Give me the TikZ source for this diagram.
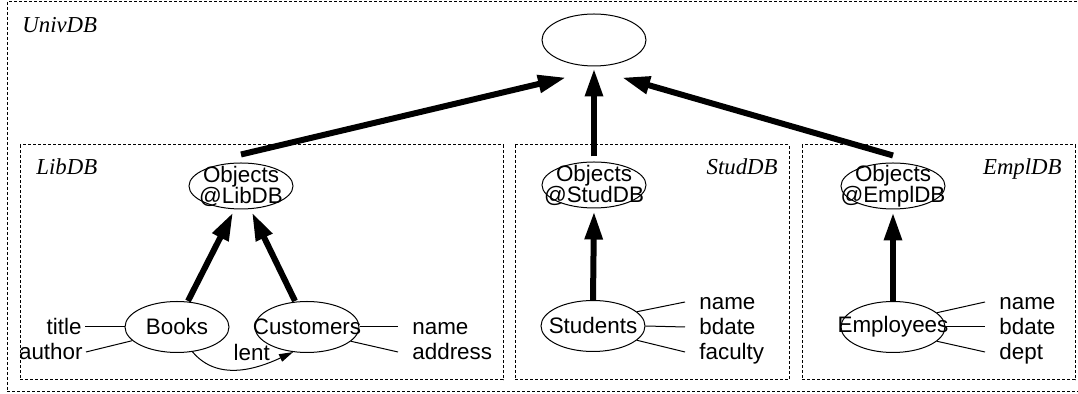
\documentclass[tikz,border=0pt]{standalone}
\usepackage{fontspec}
\setmainfont{Liberation Sans}
\newfontfamily\dbfont{Liberation Serif}
\usetikzlibrary{shapes,arrows.meta,positioning}

\begin{document}
\begin{tikzpicture}[
    x=0.5pt, y=-0.5pt,
    every node/.style={font=\fontsize{11.2}{10.5}\selectfont},
    oval/.style={
        ellipse,
        draw,
        line width=0.5pt,
        minimum width=52pt,
        minimum height=25.5pt,
        inner sep=0pt
    },
    cls/.style={oval, label={[align=center]center:#1}},
    objs/.style={cls={#1}, minimum height=23pt},
    attr/.style={
        inner xsep=7pt,
        inner ysep=0pt,
        text height=8pt,
        text depth=0pt
    },
    db/.style={draw, line width=0.5pt, dash pattern=on 1.5pt off 1pt},
    dbname/.style={
        font=\fontsize{11.4}{13}\selectfont\dbfont\itshape,
        inner sep=0pt
    },
    isa/.style={-{Triangle[length=14pt,width=8.5pt]}, line width=3pt},
    link/.style={line width=0.5pt}
]
\useasboundingbox (0,0) rectangle (1078,394);

% Database frames
\draw[db] (7,2) rectangle (1082,392);
\draw[db] (20,145) rectangle (503,380);
\draw[db] (515,145) rectangle (789,380);
\draw[db] (802,145) rectangle (1075,380);

\node[dbname, anchor=base west] (univ-name) at (22,33) {UnivDB};
\node[dbname, anchor=base west] (lib-name) at (36,175) {LibDB};
\node[dbname, anchor=base east] (stud-name) at (778,175) {StudDB};
\node[dbname, anchor=base east] (empl-name) at (1062,175) {EmplDB};

% Root and object sets
\node[oval, minimum height=26pt] (univ) at (594,40) {};
\node[objs={Objects\\@LibDB}] (libobj) at (241,186) {};
\node[objs={Objects\\@StudDB}] (studobj) at (594,185) {};
\node[objs={Objects\\@EmplDB}] (emplobj) at (893,186) {};

% Classes
\node[cls=Books] (books) at (177,327) {};
\node[cls=Customers] (cust) at (307,327) {};
\node[cls=Students] (stud) at (593,326) {};
\node[cls=Employees] (empl) at (893,327) {};

% Attributes
\node[attr, inner xsep=1.5pt, anchor=east] (title) at (85,327) {title};
\node[attr, inner xsep=1.5pt, anchor=east] (author) at (86,352) {author};
\node[attr, anchor=west] (cust-name) at (398,327) {name};
\node[attr, anchor=west] (cust-addr) at (398,352) {address};
\node[attr, anchor=west] (stud-name) at (685,302) {name};
\node[attr, anchor=west] (stud-bdate) at (685,327) {bdate};
\node[attr, anchor=west] (stud-fac) at (685,352) {faculty};
\node[attr, anchor=west] (empl-name) at (985,302) {name};
\node[attr, anchor=west] (empl-bdate) at (985,327) {bdate};
\node[attr, anchor=west] (empl-dept) at (985,352) {dept};

% Object sets up to the root
\draw[isa] ([yshift=4pt]libobj.north) -- ([xshift=-14pt,yshift=-5.5pt]univ.south);
\draw[isa] ([yshift=2.5pt]studobj.north) -- ([yshift=-1pt]univ.south);
\draw[isa] ([yshift=3.5pt]emplobj.north) -- ([xshift=14pt,yshift=-5.5pt]univ.south);

% Classes up to their object sets
\draw[isa] ([xshift=5.5pt]books.north) -- ([xshift=-4pt,yshift=-1.5pt]libobj.south);
\draw[isa] ([xshift=-6pt]cust.north) -- ([xshift=5.5pt,yshift=-1.5pt]libobj.south);
\draw[isa] (stud.north) -- ([yshift=-1.5pt]studobj.south);
\draw[isa] (empl.north) -- ([yshift=-1.5pt]emplobj.south);

% Attribute links
\draw[link] (books.west) -- (title.east);
\draw[link] (books.197) -- (author.east);
\draw[link] (cust.east) -- (cust-name.west);
\draw[link] (cust.-18) -- (cust-addr.west);
\draw[link] (stud.18) -- (stud-name.west);
\draw[link] (stud.east) -- (stud-bdate.west);
\draw[link] (stud.-18) -- (stud-fac.west);
\draw[link] (empl.18) -- (empl-name.west);
\draw[link] (empl.east) -- (empl-bdate.west);
\draw[link] (empl.-18) -- (empl-dept.west);

% Reference between classes
\draw[link, -{Triangle[length=7pt,width=4pt]}] (books.-58)
    to[out=-50, in=-155] node[pos=0.62, above] {lent} (cust.-119);

\end{tikzpicture}
\end{document}
